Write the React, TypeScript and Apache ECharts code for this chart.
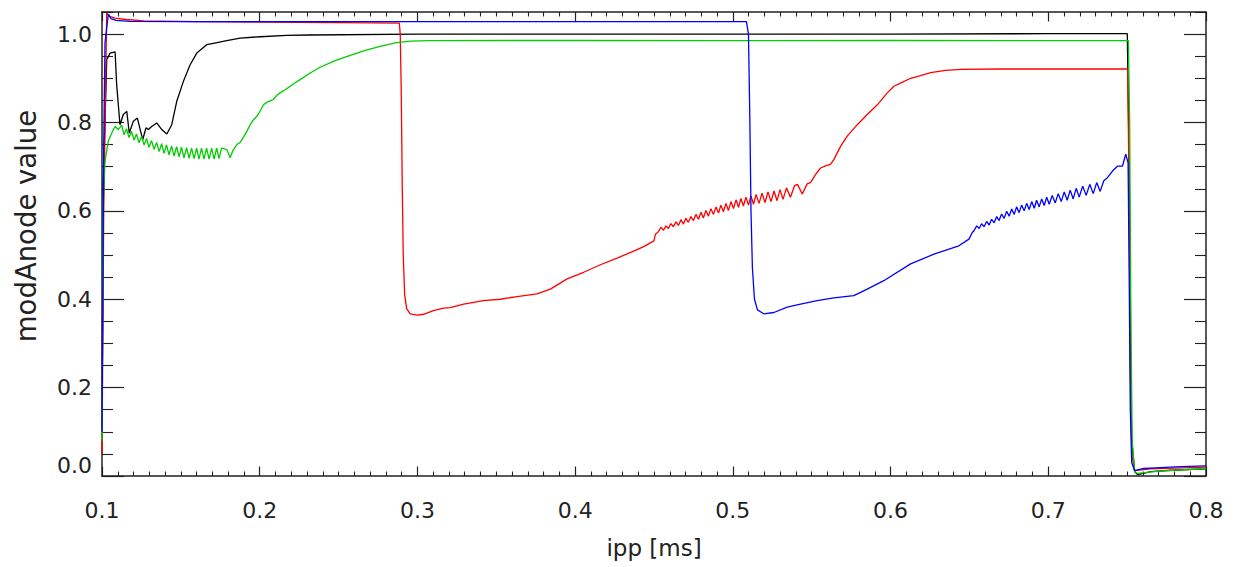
import React, { useEffect, useRef } from "react";
import * as echarts from "echarts";

const FONT = "'DejaVu Sans', 'Liberation Sans', Arial, sans-serif";

const xTicks = [0.1, 0.2, 0.3, 0.4, 0.5, 0.6, 0.7, 0.8];
const yMajorTicks = [0, 0.2, 0.4, 0.6, 0.8, 1.0];
const yMinorTicks = [0.05, 0.1, 0.15, 0.25, 0.3, 0.35, 0.45, 0.5, 0.55, 0.65, 0.7, 0.75, 0.85, 0.9, 0.95, 1.05];

const blackLine: [number, number][] = [
  [0.1, 0.1], [0.1008, 0.66], [0.103, 0.942], [0.1051, 0.957], [0.1083, 0.96], [0.1093, 0.885],
  [0.1114, 0.795], [0.1135, 0.818], [0.1157, 0.825], [0.1173, 0.776], [0.1199, 0.803], [0.1224, 0.81],
  [0.1258, 0.761], [0.1279, 0.788], [0.1294, 0.784], [0.1315, 0.791], [0.1347, 0.799], [0.1379, 0.784],
  [0.1411, 0.774], [0.1442, 0.795], [0.1474, 0.848], [0.1516, 0.893], [0.1558, 0.93], [0.1601, 0.957],
  [0.1664, 0.976], [0.1706, 0.979], [0.1791, 0.985], [0.1876, 0.991], [0.2003, 0.994], [0.2172, 0.997],
  [0.232, 0.998], [0.3, 1.0], [0.4, 1.0], [0.5, 1.0], [0.6, 1.0], [0.7, 1.001], [0.7501, 1.001],
  [0.7513, 0.7], [0.752, 0.3], [0.7529, 0.08], [0.7548, 0.01], [0.7567, 0.003], [0.765, 0.01],
  [0.7777, 0.013], [0.8, 0.016],
];

const greenLine: [number, number][] = [
  [0.1, 0.08], [0.1008, 0.622], [0.1019, 0.712], [0.104, 0.758], [0.1072, 0.784], [0.1083, 0.791],
  [0.1103, 0.784], [0.1125, 0.794], [0.114, 0.772], [0.1155, 0.786], [0.1171, 0.766], [0.1187, 0.78],
  [0.1203, 0.76], [0.1219, 0.774], [0.1235, 0.754], [0.1251, 0.769], [0.1267, 0.749], [0.1282, 0.764],
  [0.1298, 0.744], [0.1314, 0.759], [0.133, 0.739], [0.1346, 0.755], [0.1362, 0.734], [0.1378, 0.752],
  [0.1393, 0.73], [0.1409, 0.749], [0.1425, 0.727], [0.1441, 0.747], [0.1457, 0.724], [0.1473, 0.745],
  [0.1489, 0.722], [0.1504, 0.744], [0.152, 0.72], [0.1536, 0.743], [0.1552, 0.719], [0.1568, 0.742],
  [0.1584, 0.718], [0.16, 0.742], [0.1615, 0.717], [0.1631, 0.742], [0.1647, 0.717], [0.1663, 0.742],
  [0.1679, 0.717], [0.1695, 0.742], [0.1711, 0.717], [0.1727, 0.742], [0.1742, 0.718], [0.1758, 0.742],
  [0.1777, 0.74], [0.1793, 0.738], [0.1812, 0.72], [0.1831, 0.737], [0.1855, 0.75], [0.1876, 0.755],
  [0.1897, 0.767], [0.192, 0.781], [0.1939, 0.795], [0.1958, 0.805], [0.1982, 0.814], [0.2003, 0.826],
  [0.2024, 0.84], [0.2047, 0.846], [0.2066, 0.849], [0.2087, 0.852], [0.211, 0.862], [0.2129, 0.867],
  [0.2161, 0.874], [0.2193, 0.882], [0.2225, 0.89], [0.2256, 0.897], [0.232, 0.912], [0.2383, 0.925],
  [0.2478, 0.94], [0.2574, 0.952], [0.2669, 0.963], [0.2764, 0.972], [0.2859, 0.98], [0.2954, 0.984],
  [0.3081, 0.985], [0.4, 0.986], [0.5, 0.985], [0.6, 0.986], [0.7, 0.985], [0.7508, 0.985],
  [0.7516, 0.8], [0.7523, 0.4], [0.7532, 0.08], [0.7548, 0.008], [0.7567, 0.006], [0.77, 0.011],
  [0.8, 0.017],
];

const redLine: [number, number][] = [
  [0.1, 0.05], [0.1011, 0.6], [0.103, 1.047], [0.105, 1.04], [0.1082, 1.036], [0.1152, 1.033],
  [0.1266, 1.03], [0.1584, 1.028], [0.2, 1.027], [0.25, 1.026], [0.2885, 1.025], [0.2891, 1.0],
  [0.2897, 0.88], [0.2904, 0.65], [0.291, 0.5], [0.2919, 0.41], [0.2932, 0.378], [0.2954, 0.367],
  [0.2999, 0.364], [0.3039, 0.366], [0.3102, 0.374], [0.3166, 0.38], [0.3208, 0.381], [0.3293, 0.389],
  [0.3419, 0.397], [0.3525, 0.4], [0.3631, 0.406], [0.3758, 0.412], [0.3843, 0.423], [0.3949, 0.446],
  [0.4054, 0.461], [0.416, 0.478], [0.4266, 0.493], [0.4371, 0.509], [0.4435, 0.519], [0.4499, 0.532],
  [0.4509, 0.547], [0.4528, 0.553], [0.4544, 0.563], [0.456, 0.556], [0.4576, 0.566], [0.4591, 0.56],
  [0.4607, 0.571], [0.4623, 0.564], [0.4639, 0.575], [0.4655, 0.567], [0.4671, 0.58], [0.4687, 0.57],
  [0.4702, 0.583], [0.4718, 0.574], [0.4734, 0.587], [0.475, 0.578], [0.4766, 0.592], [0.4782, 0.581],
  [0.4798, 0.597], [0.4813, 0.584], [0.4829, 0.601], [0.4845, 0.588], [0.4861, 0.605], [0.4877, 0.592],
  [0.4893, 0.609], [0.4909, 0.595], [0.4924, 0.613], [0.494, 0.598], [0.4956, 0.617], [0.4972, 0.601],
  [0.4988, 0.621], [0.5004, 0.605], [0.502, 0.625], [0.5036, 0.608], [0.5051, 0.628], [0.5067, 0.611],
  [0.5083, 0.631], [0.5099, 0.613], [0.5115, 0.634], [0.5131, 0.615], [0.5147, 0.637], [0.5166, 0.617],
  [0.5185, 0.64], [0.5204, 0.619], [0.5223, 0.643], [0.5242, 0.621], [0.5261, 0.645], [0.528, 0.623],
  [0.5299, 0.648], [0.5318, 0.626], [0.534, 0.652], [0.5365, 0.631], [0.5391, 0.657], [0.541, 0.66],
  [0.544, 0.638], [0.5471, 0.661], [0.5492, 0.664], [0.5524, 0.682], [0.5556, 0.697], [0.5588, 0.702],
  [0.5619, 0.705], [0.564, 0.716], [0.5683, 0.746], [0.5725, 0.769], [0.5789, 0.795], [0.5852, 0.818],
  [0.5916, 0.84], [0.5979, 0.867], [0.6021, 0.882], [0.6063, 0.889], [0.6127, 0.9], [0.619, 0.906],
  [0.6254, 0.913], [0.6349, 0.918], [0.6444, 0.92], [0.6698, 0.921], [0.7504, 0.921], [0.7513, 0.6],
  [0.752, 0.25], [0.7529, 0.05], [0.7548, 0.012], [0.765, 0.016], [0.8, 0.02],
];

const blueLine: [number, number][] = [
  [0.1, 0.1], [0.1011, 0.75], [0.1019, 0.98], [0.104, 1.045], [0.1057, 1.035], [0.1089, 1.031],
  [0.1178, 1.029], [0.15, 1.028], [0.3, 1.028], [0.45, 1.028], [0.5086, 1.028], [0.5099, 1.0],
  [0.5108, 0.8], [0.5115, 0.6], [0.5124, 0.47], [0.5137, 0.4], [0.5156, 0.376], [0.5196, 0.367],
  [0.526, 0.37], [0.5345, 0.382], [0.5429, 0.389], [0.5535, 0.397], [0.564, 0.403], [0.5767, 0.408],
  [0.5852, 0.423], [0.5957, 0.442], [0.6127, 0.48], [0.6275, 0.502], [0.6433, 0.521], [0.6497, 0.536],
  [0.6518, 0.551], [0.6529, 0.555], [0.6546, 0.566], [0.6562, 0.56], [0.6577, 0.571], [0.6593, 0.564],
  [0.6609, 0.576], [0.6625, 0.568], [0.6641, 0.581], [0.6657, 0.573], [0.6673, 0.587], [0.6688, 0.578],
  [0.6704, 0.593], [0.672, 0.583], [0.6736, 0.599], [0.6752, 0.588], [0.6768, 0.604], [0.6784, 0.592],
  [0.6799, 0.609], [0.6815, 0.596], [0.6831, 0.613], [0.6847, 0.6], [0.6863, 0.617], [0.6879, 0.603],
  [0.6895, 0.621], [0.6911, 0.606], [0.6926, 0.624], [0.6942, 0.609], [0.6958, 0.627], [0.6974, 0.612],
  [0.699, 0.631], [0.7006, 0.615], [0.7025, 0.635], [0.7044, 0.618], [0.7063, 0.639], [0.7082, 0.621],
  [0.7101, 0.643], [0.712, 0.624], [0.7139, 0.647], [0.7158, 0.627], [0.7177, 0.651], [0.7196, 0.631],
  [0.7218, 0.656], [0.724, 0.635], [0.7263, 0.66], [0.7285, 0.639], [0.7307, 0.664], [0.7329, 0.644],
  [0.7352, 0.668], [0.7375, 0.675], [0.7407, 0.69], [0.7438, 0.701], [0.747, 0.701], [0.7491, 0.728],
  [0.7506, 0.709], [0.7513, 0.45], [0.752, 0.15], [0.7529, 0.03], [0.7548, 0.012], [0.7605, 0.017],
  [0.7713, 0.019], [0.784, 0.021], [0.8, 0.023],
];

const AX = "#222";

function xAxisDef(position: "top" | "bottom", withLabels: boolean) {
  return {
    type: "value",
    position,
    min: 0.1,
    max: 0.8,
    interval: 0.1,
    axisLine: { show: true, onZero: false, lineStyle: { color: AX, width: 1.5 } },
    axisTick: { show: true, inside: true, length: 9.5, lineStyle: { color: AX, width: 1.2 } },
    minorTick: { show: true, splitNumber: 10, length: 4.5, lineStyle: { color: AX, width: 1.1 } },
    splitLine: { show: false },
    axisLabel: {
      show: withLabels,
      fontSize: 22,
      fontFamily: FONT,
      color: AX,
      margin: 23,
      formatter: (v: number) => (xTicks.some((t) => Math.abs(t - v) < 1e-6) ? v.toFixed(1) : ""),
    },
    name: withLabels ? "ipp [ms]" : "",
    nameLocation: "middle",
    nameGap: 60,
    nameTextStyle: { fontSize: 23, fontFamily: FONT, color: AX },
  };
}

function yMajor(position: "left" | "right", withLabels: boolean) {
  return {
    type: "value",
    position,
    min: 0,
    max: 1.05,
    interval: 0.2,
    axisLine: { show: true, onZero: false, lineStyle: { color: AX, width: 1.5 } },
    axisTick: { show: true, inside: true, length: 22, customValues: yMajorTicks, lineStyle: { color: AX, width: 1.2 } },
    splitLine: { show: false },
    axisLabel: {
      show: withLabels,
      customValues: yMajorTicks,
      verticalAlignMinLabel: "bottom",
      fontSize: 22,
      fontFamily: FONT,
      color: AX,
      margin: 10,
      formatter: (v: number) => (yMajorTicks.some((t) => Math.abs(t - v) < 1e-6) ? v.toFixed(1) : ""),
    },
    name: withLabels ? "modAnode value" : "",
    nameLocation: "middle",
    nameGap: 62,
    nameRotate: 90,
    nameTextStyle: { fontSize: 27.5, fontFamily: FONT, color: AX, padding: [0, 0, 0, 36] },
  };
}

function yMinor(position: "left" | "right") {
  return {
    type: "value",
    position,
    min: 0,
    max: 1.05,
    interval: 0.05,
    axisLine: { show: false },
    axisTick: { show: true, inside: true, length: 11, customValues: yMinorTicks, lineStyle: { color: AX, width: 1.1 } },
    splitLine: { show: false },
    axisLabel: { show: false },
  };
}

function lineSeries(name: string, data: [number, number][], color: string) {
  return {
    name,
    type: "line",
    data,
    xAxisIndex: 0,
    yAxisIndex: 0,
    showSymbol: false,
    symbol: "none",
    clip: true,
    lineStyle: { color, width: 1.3 },
    emphasis: { disabled: true },
  };
}

export default function App() {
  const ref = useRef<HTMLDivElement>(null);
  useEffect(() => {
    if (!ref.current) return;
    const chart = echarts.init(ref.current, undefined, { renderer: "svg" });
    chart.setOption({
      animation: false,
      backgroundColor: "#ffffff",
      textStyle: { fontFamily: FONT },
      grid: { left: 102, right: 35, top: 12, bottom: 91, containLabel: false },
      xAxis: [xAxisDef("bottom", true), xAxisDef("top", false)],
      yAxis: [yMajor("left", true), yMinor("left"), yMajor("right", false), yMinor("right")],
      series: [
        lineSeries("black", blackLine, "#000000"),
        lineSeries("red", redLine, "#ff0000"),
        lineSeries("green", greenLine, "#00cc00"),
        lineSeries("blue", blueLine, "#0000ff"),
      ],
    });
    return () => chart.dispose();
  }, []);
  return (
    <div
      ref={ref}
      style={{ position: "fixed", left: 0, top: 0, width: 1241, height: 567, background: "#fff" }}
    />
  );
}
